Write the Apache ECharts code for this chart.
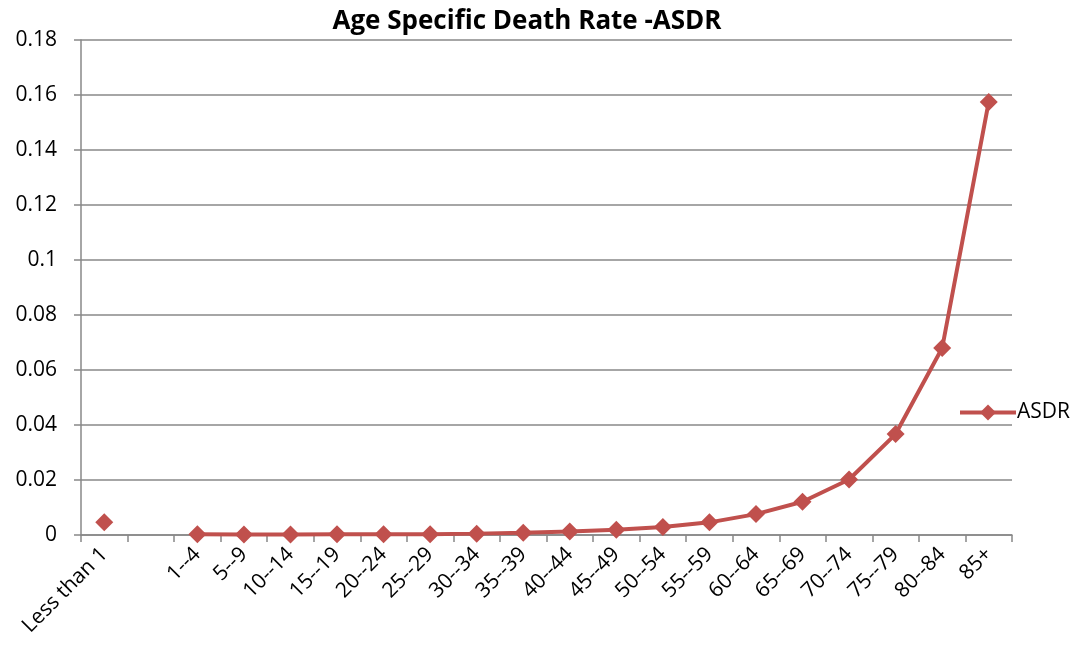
<!DOCTYPE html>
<html>
<head>
<meta charset="utf-8">
<script src="https://cdn.jsdelivr.net/npm/echarts@6/dist/echarts.min.js"></script>
<style>
  html, body { margin: 0; padding: 0; background: #fff; }
  #chart { width: 1076px; height: 654px; }
</style>
</head>
<body>
<div id="chart"></div>
<script>
"use strict";

// age groups, with an empty slot after "Less than 1" like the original sheet
var categories = ["Less than 1", "", "1--4", "5--9", "10--14", "15--19", "20--24", "25--29",
  "30--34", "35--39", "40--44", "45--49", "50--54", "55--59", "60--64", "65--69",
  "70--74", "75--79", "80--84", "85+"];
var asdrValues = [0.0046, null, 0.0003, 0.0002, 0.0002, 0.0003, 0.0003, 0.0003,
  0.0005, 0.0008, 0.0013, 0.0019, 0.0029, 0.0046, 0.0076, 0.0121,
  0.0202, 0.0367, 0.0680, 0.1575];
var yTicks = [0, 0.02, 0.04, 0.06, 0.08, 0.1, 0.12, 0.14, 0.16, 0.18];

var font = "'Open Sans', 'Noto Sans', sans-serif";
var chart = echarts.init(document.getElementById("chart"));

chart.setOption({
  animation: false,
  title: {
    text: "Age Specific Death Rate -ASDR",
    left: 522,
    textAlign: "center",
    top: 4,
    textStyle: { fontFamily: font, fontSize: 26, fontWeight: "bold", color: "#000" }
  },
  legend: {
    data: ["ASDR"],
    left: 953,
    top: 397,
    itemWidth: 56,
    itemHeight: 20,
    itemGap: 4,
    lineStyle: { width: 4 },
    textStyle: { fontFamily: font, fontSize: 21, color: "#000", padding: [0, 0, 0, -4] }
  },
  grid: { left: 81, right: 64, top: 40, bottom: 119 },
  xAxis: {
    type: "category",
    data: categories,
    boundaryGap: true,
    axisLine: { lineStyle: { color: "#888", width: 1.5 } },
    axisTick: { show: true, length: 7, alignWithLabel: false, interval: 0, lineStyle: { color: "#888", width: 1.5 } },
    axisLabel: { interval: 0, rotate: 45, fontFamily: font, fontSize: 21, color: "#000", margin: 16 }
  },
  yAxis: {
    type: "value",
    min: 0,
    max: 0.18,
    interval: 0.02,
    axisLine: { show: true, lineStyle: { color: "#888", width: 1.5 } },
    axisTick: { show: true, length: 7, lineStyle: { color: "#888", width: 1.5 } },
    splitLine: { lineStyle: { color: "#888", width: 1.5 } },
    axisLabel: {
      fontFamily: font, fontSize: 21, color: "#000", margin: 24,
      formatter: function (v) {
        var i = yTicks.findIndex(function (t) { return Math.abs(t - v) < 1e-9; });
        return i >= 0 ? String(yTicks[i]) : "";
      }
    }
  },
  series: [
    {
      name: "ASDR",
      type: "line",
      data: asdrValues,
      connectNulls: false,
      symbol: "diamond",
      symbolSize: 18,
      showAllSymbol: true,
      lineStyle: { color: "#C0504D", width: 4 },
      itemStyle: { color: "#C0504D" }
    }
  ]
});
</script>
</body>
</html>
